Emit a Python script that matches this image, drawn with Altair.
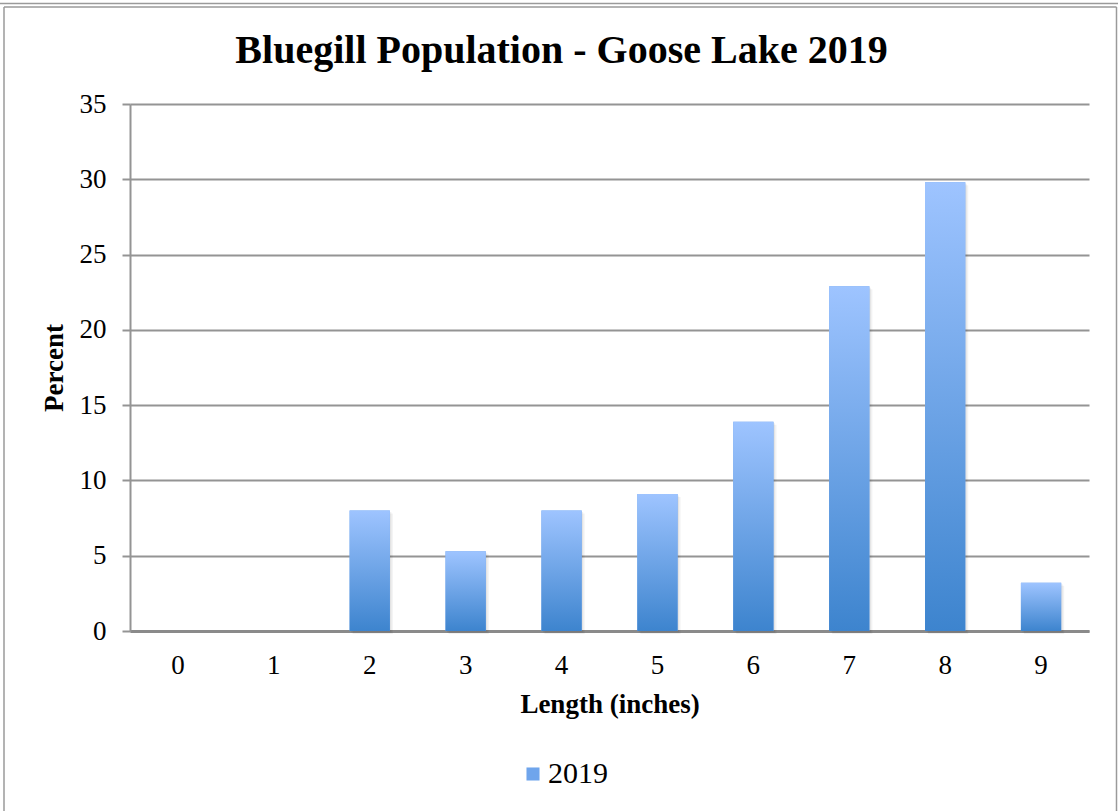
import altair as alt
import pandas as pd

# Bluegill length distribution, Goose Lake 2019
lengths = [0, 1, 2, 3, 4, 5, 6, 7, 8, 9]
percents = [0.0, 0.0, 8.0, 5.3, 8.0, 9.1, 13.9, 22.9, 29.8, 3.2]
series = ["2019"] * len(lengths)
y_ticks = [0, 5, 10, 15, 20, 25, 30, 35]

df = pd.DataFrame({"length": lengths, "percent": percents, "series": series})

FONT = "Liberation Serif"
GRID = "#949494"

blue_fade = alt.Gradient(
    gradient="linear",
    stops=[
        alt.GradientStop(color="#3D84CE", offset=0),
        alt.GradientStop(color="#9EC4FF", offset=1),
    ],
    x1=1, x2=1, y1=1, y2=0,
)

x_enc = alt.X(
    "length:O",
    title="Length (inches)",
    scale=alt.Scale(paddingInner=0.58, paddingOuter=0.29),
    axis=alt.Axis(
        labelAngle=0, labelAlign="center", ticks=False, grid=False,
        domainColor="#8a8a8a", domainWidth=3,
        labelFont=FONT, labelFontSize=27, labelColor="#000",
        labelPadding=34,
        titleFont=FONT, titleFontSize=27, titleFontWeight="bold",
        titleColor="#000", titlePadding=13,
    ),
)
y_enc = alt.Y(
    "percent:Q",
    title="Percent",
    scale=alt.Scale(domain=[0, 35], nice=False),
    axis=alt.Axis(
        values=y_ticks, grid=True, gridColor=GRID, gridWidth=2,
        domainColor=GRID, domainWidth=2,
        tickColor=GRID, tickWidth=2, tickSize=8,
        labelFont=FONT, labelFontSize=27, labelColor="#000",
        labelPadding=16,
        titleFont=FONT, titleFontSize=27, titleFontWeight="bold",
        titleColor="#000", titlePadding=11,
    ),
)

base = alt.Chart(df)

# solid layer carries the legend, gradient bars sit on top of it
legend_bars = base.mark_bar().encode(
    x=x_enc,
    y=y_enc,
    color=alt.Color(
        "series:N",
        scale=alt.Scale(range=["#6FA5EC"]),
        legend=alt.Legend(
            title=None, orient="none", legendX=380, legendY=655,
            symbolType="square", symbolSize=170, symbolStrokeWidth=0,
            symbolOffset=8,
            labelFont=FONT, labelFontSize=30, labelColor="#000",
            labelOffset=0,
        ),
    ),
)

shadow1 = base.mark_bar(color="#000", opacity=0.06, xOffset=1.5, yOffset=1.5).encode(x="length:O", y="percent:Q")
shadow2 = base.mark_bar(color="#000", opacity=0.05, xOffset=3, yOffset=3).encode(x="length:O", y="percent:Q")

fade_bars = base.mark_bar(color=blue_fade).encode(x="length:O", y="percent:Q")

# outer frame lines around the chart
frame_df = pd.DataFrame({"k": [0]})
frame = alt.Chart(frame_df)
frame_top_outer = frame.mark_rule(color="#9a9a9a", strokeWidth=1.5).encode(
    x=alt.value(-130), x2=alt.value(988), y=alt.value(-100.5))
frame_top = frame.mark_rule(color="#9a9a9a", strokeWidth=1.5).encode(
    x=alt.value(-126), x2=alt.value(986.5), y=alt.value(-97))
frame_left = frame.mark_rule(color="#9a9a9a", strokeWidth=1.5).encode(
    x=alt.value(-126), y=alt.value(-97), y2=alt.value(720))
frame_right = frame.mark_rule(color="#9a9a9a", strokeWidth=1.5).encode(
    x=alt.value(986.5), y=alt.value(-97), y2=alt.value(720))

chart = (
    alt.layer(
        shadow2, shadow1, legend_bars, fade_bars,
        frame_top_outer, frame_top, frame_left, frame_right,
    )
    .properties(
        width=959,
        height=527,
        title=alt.Title(
            "Bluegill Population - Goose Lake 2019",
            font=FONT, fontSize=40, fontWeight="bold", color="#000",
            anchor="middle", dx=-48, offset=-100, baseline="alphabetic",
        ),
        autosize=alt.AutoSizeParams(type="none"),
        padding={"left": 130, "top": 104, "right": 29, "bottom": 180},
        background="white",
    )
    .configure_view(stroke=None)
)

chart.save("out.html", embed_options={"renderer": "svg", "actions": False})
